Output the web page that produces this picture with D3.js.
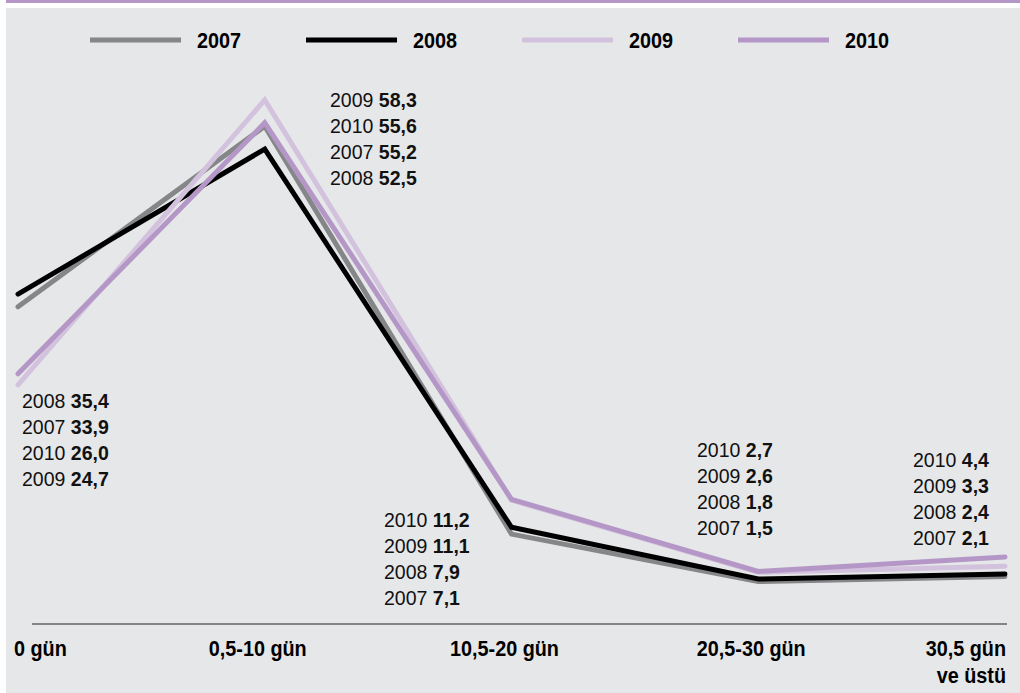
<!DOCTYPE html>
<html>
<head>
<meta charset="utf-8">
<script src="https://cdn.jsdelivr.net/npm/d3@7"></script>
<style>
  html, body { margin: 0; padding: 0; background: #ffffff; }
  svg { display: block; }
</style>
</head>
<body>
<svg id="chart" width="1020" height="693"></svg>
<script>
// ---- data ----
const categories = ["0 gün", "0,5-10 gün", "10,5-20 gün", "20,5-30 gün", "30,5 gün\nve üstü"];
const years = ["2007", "2008", "2009", "2010"];
const values2007 = [33.9, 55.2, 7.1, 1.5, 2.1];
const values2008 = [35.4, 52.5, 7.9, 1.8, 2.4];
const values2009 = [24.7, 58.3, 11.1, 2.6, 3.3];
const values2010 = [26.0, 55.6, 11.2, 2.7, 4.4];
const yDomain = [0, 60];

// ---- styling / layout ----
const colors = {"2007": "#858688", "2008": "#000000", "2009": "#d3c2dd", "2010": "#b497c6"};
const boldFont = "'Liberation Sans', Arial, Helvetica, sans-serif";
const regular = "'Liberation Sans', Arial, Helvetica, sans-serif";
const condScale = 0.88;
// label block placement per category: [x of text start, first baseline]
const labelPos = [[22, 408], [330, 107], [384, 527], [697, 457], [913, 467]];
const labelStep = 26;

const series = years.map((y, i) => ({
  year: y,
  values: [values2007, values2008, values2009, values2010][i]
}));

const svg = d3.select("#chart");
const W = 1020, H = 693;

// background
svg.append("rect").attr("x", 6).attr("y", 0).attr("width", W - 6).attr("height", 3).attr("fill", "#b497c6");
svg.append("rect").attr("x", 6).attr("y", 8).attr("width", W - 6).attr("height", H - 8).attr("fill", "#e6e7e9");

const x = d3.scalePoint().domain(categories).range([18, 1005]);
const y = d3.scaleLinear().domain(yDomain).range([594.3, 594.3 - 60 * 8.48]);

function condText(parent, px, py, txt, anchor) {
  return parent.append("g").attr("transform", `translate(${px},${py}) scale(${condScale},1)`)
    .append("text").attr("x", 0).attr("y", 0).attr("text-anchor", anchor || "start")
    .attr("font-family", boldFont).attr("font-weight", "bold").attr("font-size", 22.5)
    .attr("fill", "#000").text(txt);
}

// legend
const legend = svg.append("g");
years.forEach((yr, i) => {
  const lx = 90 + i * 216;
  legend.append("line").attr("x1", lx).attr("x2", lx + 91).attr("y1", 40).attr("y2", 40)
    .attr("stroke", colors[yr]).attr("stroke-width", 5);
  condText(legend, lx + 107, 48, yr, "start");
});

// axis line
svg.append("line").attr("x1", 32).attr("x2", 1007).attr("y1", 624).attr("y2", 624)
  .attr("stroke", "#222").attr("stroke-width", 1.2);

// x labels
const xl = svg.append("g");
categories.forEach((c, i) => {
  const lines = c.split("\n");
  let anchor = "middle", xp = x(c) - 7;
  if (i === 0) { anchor = "start"; xp = x(c) - 4; }
  if (i === categories.length - 1) { anchor = "end"; xp = x(c) + 1; }
  lines.forEach((ln, j) => condText(xl, xp, 656 + j * 27, ln, anchor));
});

// lines
const line = d3.line().x((d, i) => x(categories[i])).y(d => y(d));
svg.append("g").selectAll("path").data(series).join("path")
  .attr("d", d => line(d.values))
  .attr("fill", "none")
  .attr("stroke", d => colors[d.year])
  .attr("stroke-width", 5)
  .attr("stroke-linecap", "round")
  .attr("stroke-linejoin", "miter");

// value labels
const fmt = v => v.toFixed(1).replace(".", ",");
const lab = svg.append("g");
categories.forEach((c, i) => {
  const items = series.map(s => ({year: s.year, v: s.values[i]})).sort((a, b) => b.v - a.v);
  items.forEach((it, j) => {
    const t = lab.append("text").attr("x", labelPos[i][0]).attr("y", labelPos[i][1] + j * labelStep)
      .attr("font-family", regular).attr("font-size", 19.5).attr("fill", "#111");
    t.append("tspan").text(it.year + " ");
    t.append("tspan").attr("font-weight", "bold").text(fmt(it.v));
  });
});
</script>
</body>
</html>
